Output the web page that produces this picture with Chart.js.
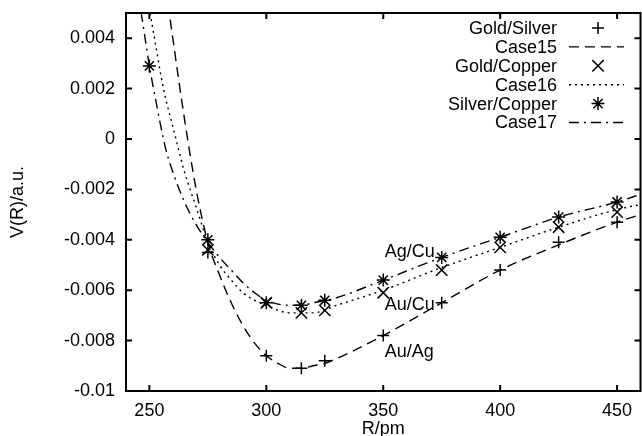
<!DOCTYPE html>
<html>
<head>
<meta charset="utf-8">
<script src="https://cdn.jsdelivr.net/npm/chart.js@4.4.0/dist/chart.umd.min.js"></script>
<style>
html, body { margin: 0; padding: 0; overflow: hidden; background: #fff; }
canvas { display: block; }
</style>
</head>
<body>
<canvas id="graphCanvas" width="650" height="436"></canvas>
<script>
// axis ticks
var xTicks = [250, 300, 350, 400, 450];
var yTicks = [-0.01, -0.008, -0.006, -0.004, -0.002, 0, 0.002, 0.004];
var yTickLabels = ['-0.01', '-0.008', '-0.006', '-0.004', '-0.002', '0', '0.002', '0.004'];

// measured points
var pointR = [275, 300, 315, 325, 350, 375, 400, 425, 450];
var goldSilver = [-0.0045, -0.0086, -0.0091, -0.0088, -0.0078, -0.0065, -0.0052, -0.0041, -0.0033];
var goldCopper = [-0.0044, -0.0065, -0.0069, -0.0068, -0.0061, -0.0052, -0.0043, -0.0035, -0.0029];
var silverCopperR = [250, 275, 300, 315, 325, 350, 375, 400, 425, 450];
var silverCopper = [0.0029, -0.0040, -0.0065, -0.0066, -0.0064, -0.0056, -0.0047, -0.0039, -0.0031, -0.0025];

// fitted curves
var case15R = [257, 260, 265, 270, 275, 280, 285, 290, 295, 300, 305, 310, 315, 320, 325, 335, 350, 375, 400, 425, 450, 460];
var case15V = [0.0060, 0.0040, 0.0008, -0.0020, -0.0041, -0.0054, -0.0065, -0.0074, -0.0081, -0.0086, -0.0089, -0.0091, -0.0091, -0.0090, -0.0089, -0.0085, -0.0078, -0.0065, -0.0052, -0.0042, -0.0033, -0.0030];
var case16R = [249, 252, 256, 260, 265, 270, 275, 280, 285, 290, 295, 300, 310, 315, 320, 330, 350, 375, 400, 425, 450, 460];
var case16V = [0.0057, 0.0041, 0.0020, 0.0005, -0.0013, -0.0027, -0.0041, -0.0050, -0.0056, -0.0061, -0.0064, -0.0066, -0.0069, -0.0069, -0.0069, -0.0066, -0.0060, -0.0051, -0.0043, -0.0035, -0.0028, -0.0026];
var case17R = [245, 248, 250, 253, 257, 260, 265, 270, 275, 280, 285, 290, 295, 300, 310, 315, 320, 330, 350, 375, 400, 425, 450, 460];
var case17V = [0.0059, 0.0041, 0.0029, 0.0014, -0.0004, -0.0013, -0.0025, -0.0034, -0.0041, -0.0047, -0.0052, -0.0057, -0.0061, -0.0064, -0.0066, -0.0066, -0.0065, -0.0063, -0.0056, -0.0047, -0.0039, -0.0031, -0.0025, -0.0022];

var pairLabels = [
    { text: 'Ag/Cu', r: 350.6, v: -0.00448 },
    { text: 'Au/Cu', r: 350.6, v: -0.00659 },
    { text: 'Au/Ag', r: 350.6, v: -0.00847 }
];

var FONT = 'Liberation Sans, Arial, Helvetica, sans-serif';
Chart.defaults.font.family = FONT;
Chart.defaults.font.size = 18;
Chart.defaults.color = '#000';

function toXY(xs, ys) {
    var out = [];
    for (var i = 0; i < xs.length; i++) out.push({ x: xs[i], y: ys[i] });
    return out;
}

function markerSet(label, xs, ys, style, size) {
    return {
        label: label, data: toXY(xs, ys), showLine: false,
        pointStyle: style, pointRadius: size, pointBorderWidth: 1.5,
        borderColor: '#000', backgroundColor: '#000', pointBorderColor: '#000'
    };
}

function curveSet(label, xs, ys, dash) {
    return {
        label: label, data: toXY(xs, ys), showLine: true, pointRadius: 0,
        borderColor: '#000', borderWidth: 1.4, borderDash: dash,
        cubicInterpolationMode: 'monotone', fill: false
    };
}

var datasets = [
    markerSet('Gold/Silver', pointR, goldSilver, 'cross', 6),
    curveSet('Case15', case15R, case15V, [10, 6]),
    markerSet('Gold/Copper', pointR, goldCopper, 'crossRot', 8),
    curveSet('Case16', case16R, case16V, [2, 4]),
    markerSet('Silver/Copper', silverCopperR, silverCopper, 'star', 6.5),
    curveSet('Case17', case17R, case17V, [10, 5, 2, 5])
];

function drawMark(ctx, style, x, y, r) {
    ctx.beginPath();
    if (style === 'cross' || style === 'star') {
        ctx.moveTo(x - r, y); ctx.lineTo(x + r, y);
        ctx.moveTo(x, y - r); ctx.lineTo(x, y + r);
    }
    if (style === 'crossRot' || style === 'star') {
        var d = r * 0.7071;
        ctx.moveTo(x - d, y - d); ctx.lineTo(x + d, y + d);
        ctx.moveTo(x - d, y + d); ctx.lineTo(x + d, y - d);
    }
    ctx.stroke();
}

var framePlugin = {
    id: 'frame',
    afterDatasetsDraw: function (chart) {
        var ctx = chart.ctx, a = chart.chartArea;
        var xs = chart.scales.x, ys = chart.scales.y;
        ctx.save();
        ctx.strokeStyle = '#000';
        ctx.lineWidth = 2;
        ctx.strokeRect(a.left, a.top, a.right - a.left, a.bottom - a.top);
        ctx.beginPath();
        xTicks.forEach(function (t) {
            var px = xs.getPixelForValue(t);
            ctx.moveTo(px, a.bottom); ctx.lineTo(px, a.bottom - 6);
            ctx.moveTo(px, a.top); ctx.lineTo(px, a.top + 6);
        });
        yTicks.forEach(function (t) {
            var py = ys.getPixelForValue(t);
            ctx.moveTo(a.left, py); ctx.lineTo(a.left + 6, py);
            ctx.moveTo(a.right, py); ctx.lineTo(a.right - 6, py);
        });
        ctx.stroke();

        // pair labels
        ctx.font = '18px ' + FONT;
        ctx.fillStyle = '#000';
        ctx.textAlign = 'left';
        ctx.textBaseline = 'middle';
        pairLabels.forEach(function (p) {
            ctx.fillText(p.text, xs.getPixelForValue(p.r), ys.getPixelForValue(p.v));
        });

        // key
        var textRight = 557, rowTop = 28, rowStep = 18.9;
        ctx.textAlign = 'right';
        chart.data.datasets.forEach(function (ds, i) {
            var y = rowTop + i * rowStep;
            ctx.fillText(ds.label, textRight, y + 1);
            ctx.lineWidth = 1.4;
            if (ds.showLine) {
                ctx.setLineDash(ds.borderDash);
                ctx.beginPath();
                ctx.moveTo(569, y); ctx.lineTo(624, y);
                ctx.stroke();
                ctx.setLineDash([]);
            } else {
                ctx.lineWidth = 1.5;
                drawMark(ctx, ds.pointStyle, 598, y, ds.pointRadius);
            }
        });
        ctx.restore();
    }
};

new Chart(document.getElementById('graphCanvas'), {
    type: 'scatter',
    data: { datasets: datasets },
    options: {
        responsive: false,
        animation: false,
        layout: { padding: { top: 13, right: 3.5, left: 0, bottom: 0 } },
        plugins: { legend: { display: false }, tooltip: { enabled: false } },
        scales: {
            x: {
                type: 'linear', min: 240, max: 460,
                afterBuildTicks: function (s) { s.ticks = xTicks.map(function (v) { return { value: v }; }); },
                afterFit: function (s) { s.height = 45; s.paddingLeft = 0; s.paddingRight = 0; },
                grid: { display: false, drawTicks: false },
                border: { display: false },
                ticks: { padding: 9, maxRotation: 0, autoSkip: false },
                title: { display: true, text: 'R/pm', font: { size: 18, lineHeight: 1 }, padding: { top: 0, bottom: -2 } }
            },
            y: {
                type: 'linear', min: -0.01, max: 0.005,
                afterBuildTicks: function (s) { s.ticks = yTicks.map(function (v) { return { value: v }; }); },
                afterFit: function (s) { s.width = 126; s.paddingTop = 0; s.paddingBottom = 0; },
                grid: { display: false, drawTicks: false },
                border: { display: false },
                ticks: {
                    padding: 11, autoSkip: false,
                    callback: function (v, i) { return yTickLabels[i]; }
                },
                title: { display: true, text: 'V(R)/a.u.', font: { size: 18, lineHeight: 1 }, padding: { top: 9, bottom: 0 } }
            }
        }
    },
    plugins: [framePlugin]
});
</script>
</body>
</html>
